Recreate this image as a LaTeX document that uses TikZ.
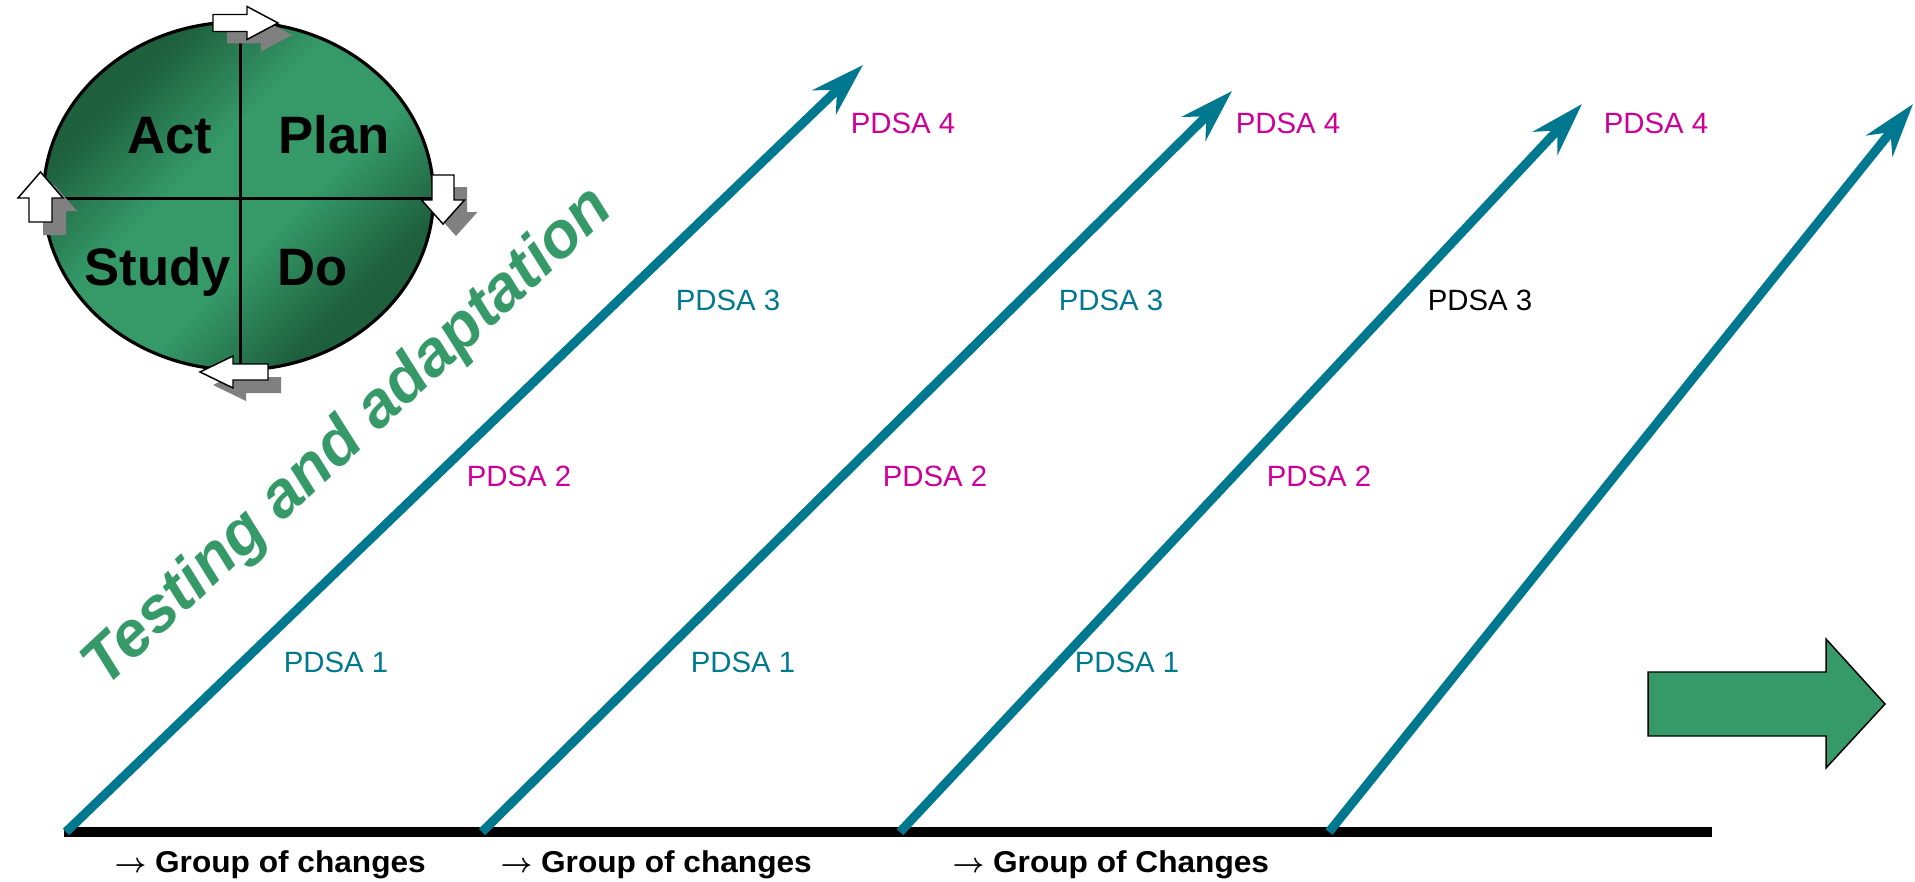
\documentclass[tikz,border=0pt]{standalone}
\usepackage{fontspec}
\setmainfont{Liberation Sans}
\newfontfamily\groupfont[FakeStretch=1.05]{Liberation Sans}
\usetikzlibrary{arrows.meta}

\definecolor{pdsaTeal}{RGB}{0,120,143}
\definecolor{pdsaPink}{RGB}{204,0,153}
\definecolor{pdcaGreen}{RGB}{53,153,104}
\definecolor{pdcaDark}{RGB}{30,96,62}
\definecolor{shadowGray}{RGB}{128,128,128}

\pgfdeclareverticalshading{pdcaShade}{100bp}{color(0bp)=(pdcaDark); color(29bp)=(pdcaDark); color(43bp)=(pdcaGreen); color(57bp)=(pdcaGreen); color(71bp)=(pdcaDark); color(100bp)=(pdcaDark)}

\tikzset{every picture/.style={line width=0.75pt}}
\tikzset{
  pdsa arrow/.style={draw=pdsaTeal, line width=6.8pt, -{Stealth[length=40pt,width=25pt,inset=13pt]}},
  pdsa label/.style={inner sep=0pt, font=\fontsize{22}{26}\selectfont},
  pdca label/.style={anchor=base, inner sep=0pt, font=\fontsize{39.5}{44}\selectfont\bfseries},
  group label/.style={anchor=base west, inner sep=0pt, font=\groupfont\fontsize{22.6}{27}\selectfont\bfseries\boldmath},
  cycle arrow/.style={draw=black, fill=white, line width=1.1pt, line join=miter},
  cycle shadow/.style={fill=shadowGray},
}

\begin{document}
\begin{tikzpicture}[x=0.75pt,y=0.75pt,yscale=-1,xscale=1]
\useasboundingbox (0,0) rectangle (1915,881);

% Text Node
\node [rotate=43, inner sep=0pt, text=pdcaGreen, font=\fontsize{48}{54}\selectfont\bfseries\itshape] (testing) at (349,438) {Testing and adaptation};

%Straight Lines: time line
\coordinate (barL) at (64,832);
\coordinate (barR) at (1712,832);
\draw [line width=7.5pt] (barL) -- (barR);

%Straight Lines: PDSA ramps
\coordinate (f1) at (66,832);   \coordinate (t1) at (863,65);
\coordinate (f2) at (482,832);  \coordinate (t2) at (1232,91);
\coordinate (f3) at (900,832);  \coordinate (t3) at (1582,104);
\coordinate (f4) at (1329,832); \coordinate (t4) at (1913,104);
\draw [pdsa arrow] (f1) -- (t1);
\draw [pdsa arrow] (f2) -- (t2);
\draw [pdsa arrow] (f3) -- (t3);
\draw [pdsa arrow] (f4) -- (t4);

% Text Node
\node [pdsa label, text=pdsaTeal] (a1p1) at (336,662) {PDSA 1};
\node [pdsa label, text=pdsaPink] (a1p2) at (519,476) {PDSA 2};
\node [pdsa label, text=pdsaTeal] (a1p3) at (728,300) {PDSA 3};
\node [pdsa label, text=pdsaPink] (a1p4) at (903,123) {PDSA 4};
% Text Node
\node [pdsa label, text=pdsaTeal] (a2p1) at (743,662) {PDSA 1};
\node [pdsa label, text=pdsaPink] (a2p2) at (935,476) {PDSA 2};
\node [pdsa label, text=pdsaTeal] (a2p3) at (1111,300) {PDSA 3};
\node [pdsa label, text=pdsaPink] (a2p4) at (1288,123) {PDSA 4};
% Text Node
\node [pdsa label, text=pdsaTeal] (a3p1) at (1127,662) {PDSA 1};
\node [pdsa label, text=pdsaPink] (a3p2) at (1319,476) {PDSA 2};
\node [pdsa label, text=black] (a3p3) at (1480,300) {PDSA 3};
\node [pdsa label, text=pdsaPink] (a3p4) at (1656,123) {PDSA 4};

% Text Node
\node [group label] (grp1) at (114,872) {$\rightarrow$ Group of changes};
\node [group label] (grp2) at (500,872) {$\rightarrow$ Group of changes};
\node [group label] (grp3) at (952,872) {$\rightarrow$ Group of Changes};

%Shape: Ellipse
\draw [line width=2.4pt, shading=pdcaShade, shading angle=45] (238.5,196) ellipse [x radius=146.25pt, y radius=130.5pt];
%Straight Lines
\draw [line width=2.25pt] (240,23) -- (240,369);
\draw [line width=2.25pt] (44,198) -- (433,198);

%Shape: Right Arrow (top)
\fill [cycle shadow] (227,26.5) -- (261,26.5) -- (261,18.5) -- (292,35) -- (261,51.5) -- (261,43.5) -- (227,43.5) -- cycle;
\draw [cycle arrow] (213,14.5) -- (247,14.5) -- (247,6.5) -- (278,23) -- (247,39.5) -- (247,31.5) -- (213,31.5) -- cycle;
%Shape: Down Arrow (right)
\fill [cycle shadow] (445,187) -- (467,187) -- (467,212) -- (477.5,212) -- (456,236) -- (434.5,212) -- (445,212) -- cycle;
\draw [cycle arrow] (432,175) -- (454,175) -- (454,200) -- (464.5,200) -- (443,224) -- (421.5,200) -- (432,200) -- cycle;
%Shape: Left Arrow (bottom)
\fill [cycle shadow] (281,377) -- (246,377) -- (246,369) -- (213,385) -- (246,401) -- (246,393) -- (281,393) -- cycle;
\draw [cycle arrow] (268,364) -- (233,364) -- (233,356) -- (200,372) -- (233,388) -- (233,380) -- (268,380) -- cycle;
%Shape: Up Arrow (left)
\fill [cycle shadow] (43,235) -- (43,211) -- (32,211) -- (54.5,185) -- (77,211) -- (66,211) -- (66,235) -- cycle;
\draw [cycle arrow] (29,222) -- (29,198) -- (18,198) -- (40.5,172) -- (63,198) -- (52,198) -- (52,222) -- cycle;

% Text Node
\node [pdca label] (act) at (170,153) {Act};
\node [pdca label] (plan) at (334,153) {Plan};
\node [pdca label] (study) at (157.5,285) {Study};
\node [pdca label] (do) at (313,285) {Do};

%Shape: Right Arrow (big)
\draw [fill=pdcaGreen, line width=1.1pt] (1648,672) -- (1826,672) -- (1826,639) -- (1885,704) -- (1826,768) -- (1826,736) -- (1648,736) -- cycle;

\end{tikzpicture}
\end{document}
